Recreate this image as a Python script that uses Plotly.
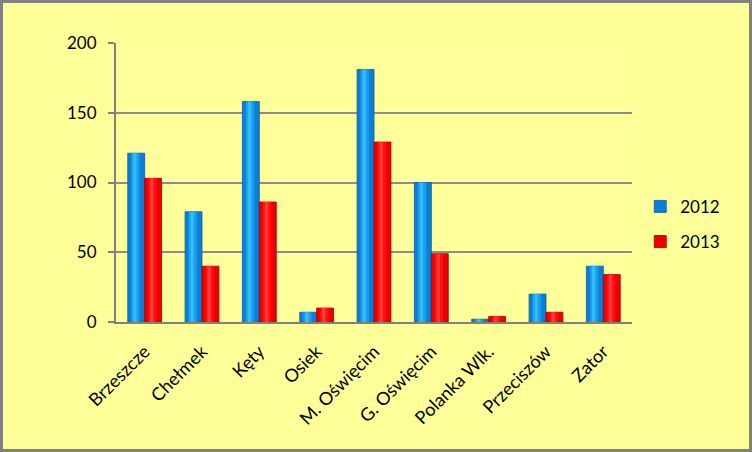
import plotly.graph_objects as go

categories = ["Brzeszcze", "Chełmek", "Kęty", "Osiek", "M. Oświęcim",
              "G. Oświęcim", "Polanka Wlk.", "Przeciszów", "Zator"]
values_2012 = [121, 79, 158, 7, 181, 100, 2, 20, 40]
values_2013 = [103, 40, 86, 10, 129, 49, 4, 7, 34]
series_names = ["2012", "2013"]
y_ticks = [0, 50, 100, 150, 200]

W, H = 752, 452
L, R, T, B = 116, 120, 43, 130
pw, ph = W - L - R, H - T - B

BW = 0.295  # bar width in category units

fig = go.Figure()
# main bars
fig.add_trace(go.Bar(x=categories, y=values_2012, name=series_names[0], legendgroup="a",
                     width=BW, offset=-BW,
                     marker=dict(color="#0A7FD6", line=dict(color="#0A5A9E", width=0.8))))
fig.add_trace(go.Bar(x=categories, y=values_2013, name=series_names[1], legendgroup="b",
                     width=BW, offset=0,
                     marker=dict(color="#EE0000", line=dict(color="#A00000", width=0.8))))
# cylinder-like highlights
fig.add_trace(go.Bar(x=categories, y=values_2012, showlegend=False, hoverinfo="skip",
                     width=BW * 0.5, offset=-BW * 0.8,
                     marker=dict(color="#1A9DEE", line=dict(width=0))))
fig.add_trace(go.Bar(x=categories, y=values_2012, showlegend=False, hoverinfo="skip",
                     width=BW * 0.2, offset=-BW * 0.68,
                     marker=dict(color="#33BCFA", line=dict(width=0))))
fig.add_trace(go.Bar(x=categories, y=values_2013, showlegend=False, hoverinfo="skip",
                     width=BW * 0.5, offset=BW * 0.2,
                     marker=dict(color="#FF1010", line=dict(width=0))))
fig.add_trace(go.Bar(x=categories, y=values_2013, showlegend=False, hoverinfo="skip",
                     width=BW * 0.2, offset=BW * 0.32,
                     marker=dict(color="#FF3A3A", line=dict(width=0))))

font_family = "Lato, 'Open Sans', sans-serif"
fig.update_layout(
    width=W, height=H,
    margin=dict(l=L, r=R, t=T, b=B),
    paper_bgcolor="#FFFF99",
    plot_bgcolor="#FFFF9C",
    barmode="overlay",
    font=dict(family=font_family, size=17, color="#000000"),
    showlegend=True,
    legend=dict(x=1.016, y=0.35, xanchor="left", yanchor="middle",
                bgcolor="rgba(0,0,0,0)", font=dict(size=17),
                tracegroupgap=10, itemwidth=30),
    xaxis=dict(tickangle=-45, showline=True, linecolor="#808080", linewidth=2,
               ticks="", showgrid=False, tickfont=dict(size=18), ticklabelstandoff=10),
    yaxis=dict(range=[0, 200], tickvals=y_ticks, showline=True, linecolor="#808080",
               linewidth=2, ticks="outside", ticklen=6, tickcolor="#808080", tickwidth=2,
               gridcolor="#8C8C8C", gridwidth=2, zeroline=False, tickfont=dict(size=17),
               ticklabelstandoff=8),
    shapes=[dict(type="rect", xref="paper", yref="paper",
                 x0=-(L - 1.5) / pw, x1=(W - L - 1.5) / pw,
                 y0=-(B - 1.5) / ph, y1=(H - B - 1.5) / ph,
                 line=dict(color="#808080", width=3), fillcolor="rgba(0,0,0,0)",
                 layer="above")],
)

fig.write_html("out.html")
